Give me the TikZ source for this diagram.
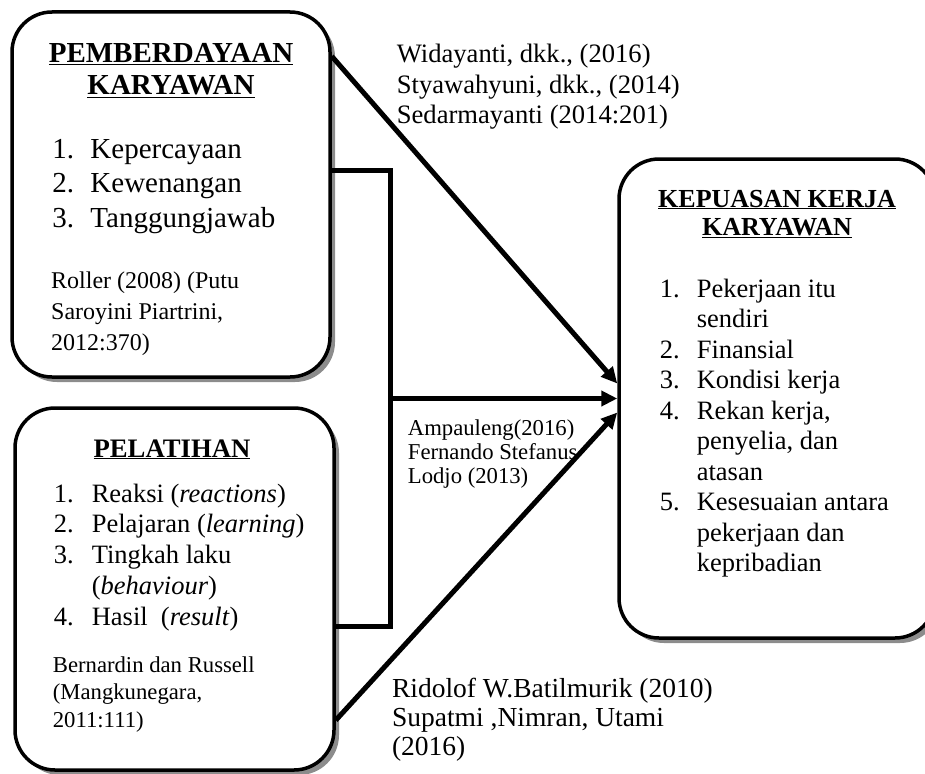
\documentclass[tikz,border=0pt]{standalone}
\usepackage{fontspec}
\setmainfont{Liberation Serif}
\usetikzlibrary{arrows.meta}
\usetikzlibrary{shadows}

\newcommand{\ukuran}[2]{\fontsize{#1}{#2}\selectfont}

\tikzset{
  kotak/.style={draw=black,line width=3.5pt,rounded corners=40pt,fill=white,inner sep=0pt,
    drop shadow={shadow xshift=5pt,shadow yshift=-5pt,fill=black!45,opacity=1}},
  garis/.style={line width=5pt},
  panah/.style={line width=5pt,-{Triangle[length=16pt,width=15pt]}},
  teks/.style={inner sep=0pt,anchor=base west},
}

\begin{document}
\begin{tikzpicture}[x=1pt,y=-1pt]
\useasboundingbox (0,0) rectangle (925,773);

% kotak variabel
\node[kotak,minimum width=318pt,minimum height=365pt] (pemb) at (171,194.5) {};
\node[kotak,minimum width=319pt,minimum height=362pt] (pel) at (174.5,589) {};
\node[kotak,minimum width=316pt,minimum height=479pt] (kep) at (777,398.5) {};

% titik sambungan
\coordinate (p1) at ([yshift=-46pt]pemb.north east);
\coordinate (p2) at ([yshift=-160pt]pemb.north east);
\coordinate (l1) at ([yshift=-220pt]pel.north east);
\coordinate (l2) at ([yshift=-314pt]pel.north east);
\coordinate (k1) at ([yshift=15pt]kep.west);
\coordinate (k3) at ([yshift=-14pt]kep.west);
\coordinate (tengah) at (390,398.5);

\draw[garis] (p2) -| (tengah) |- (l1);
\draw[panah] (p1) -- (k1);
\draw[panah] (tengah) -- (kep.west);
\draw[panah] (l2) -- (k3);

% pemberdayaan karyawan
\node[teks,anchor=base] (jdl1) at (171,63) {\ukuran{29}{32}\bfseries
  \begin{tabular}[t]{@{}c@{}}\underline{PEMBERDAYAAN}\\ \underline{KARYAWAN}\end{tabular}};
\node[teks] (isi1) at (45,158) {\ukuran{29}{34.5}
  \begin{tabular}[t]{@{}p{38pt}@{}l@{}}1. & Kepercayaan\\ 2. & Kewenangan\\ 3. & Tanggungjawab\end{tabular}};
\node[teks] (ref1) at (45,288) {\ukuran{24}{31}
  \begin{tabular}[t]{@{}l@{}}Roller (2008) (Putu\\ Saroyini Piartrini,\\ 2012:370)\end{tabular}};

% pelatihan
\node[teks,anchor=base] (jdl2) at (172,457) {\ukuran{26.7}{30}\bfseries\underline{PELATIHAN}};
\node[teks] (isi2) at (47,502) {\ukuran{26.5}{30.75}
  \begin{tabular}[t]{@{}p{38pt}@{}l@{}}1. & Reaksi (\textit{reactions})\\ 2. & Pelajaran (\textit{learning})\\
  3. & Tingkah laku\\ & (\textit{behaviour})\\ 4. & Hasil\ \ (\textit{result})\end{tabular}};
\node[teks] (ref2) at (47,672) {\ukuran{22.7}{27.5}
  \begin{tabular}[t]{@{}l@{}}Bernardin dan Russell\\ (Mangkunegara,\\ 2011:111)\end{tabular}};

% kepuasan kerja karyawan
\node[teks,anchor=base] (jdl3) at (777,207) {\ukuran{26}{28}\bfseries
  \begin{tabular}[t]{@{}c@{}}\underline{KEPUASAN KERJA}\\ \underline{KARYAWAN}\end{tabular}};
\node[teks] (isi3) at (653,297) {\ukuran{26.5}{30.5}
  \begin{tabular}[t]{@{}p{37pt}@{}l@{}}1. & Pekerjaan itu\\ & sendiri\\ 2. & Finansial\\ 3. & Kondisi kerja\\
  4. & Rekan kerja,\\ & penyelia, dan\\ & atasan\\ 5. & Kesesuaian antara\\ & pekerjaan dan\\ & kepribadian\end{tabular}};

% sumber
\node[teks] (sb1) at (390,63) {\ukuran{26.6}{30.5}
  \begin{tabular}[t]{@{}l@{}}Widayanti, dkk., (2016)\\ Styawahyuni, dkk., (2014)\\ Sedarmayanti (2014:201)\end{tabular}};
\node[teks] (sb2) at (402,435) {\ukuran{22.7}{24}
  \begin{tabular}[t]{@{}l@{}}Ampauleng(2016)\\ Fernando Stefanus\\ Lodjo (2013)\end{tabular}};
\node[teks] (sb3) at (385,697) {\ukuran{27.5}{29}
  \begin{tabular}[t]{@{}l@{}}Ridolof W.Batilmurik (2010)\\ Supatmi ,Nimran, Utami\\ (2016)\end{tabular}};

\end{tikzpicture}
\end{document}
